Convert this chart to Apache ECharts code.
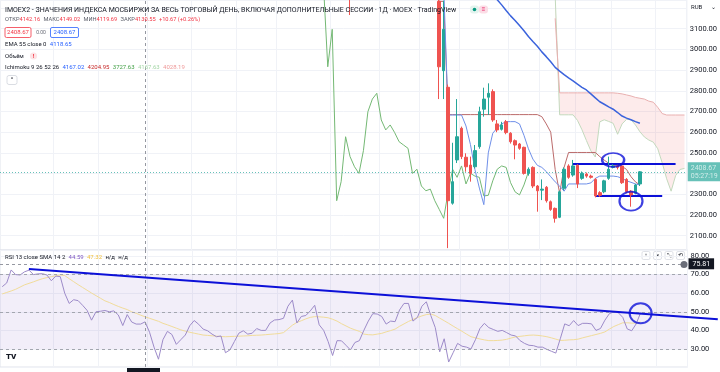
<!DOCTYPE html>
<html><head><meta charset="utf-8">
<script src="https://cdn.jsdelivr.net/npm/echarts@6/dist/echarts.min.js"></script>
<style>html,body{margin:0;padding:0;background:#fff}#c{width:720px;height:372px}</style>
</head><body><div id="c"></div>
<script>
// ---------- data ----------
const N_SLOTS = 154;                       // bars + future slots (cloud projection)
const bars = Array.from({length: N_SLOTS}, (_, i) => 'D' + (i + 1));

// candles (index on the bar axis, open, close, low, high)
const candleIndex = [78, 97, 98, 99, 100, 101, 102, 103, 104, 105, 106, 107, 108, 109, 110, 111, 112, 113, 114, 115, 116, 117, 118, 119, 120, 121, 122, 123, 124, 125, 126, 127, 128, 129, 130, 131, 132, 133, 134, 135, 136, 137, 138, 139, 140, 141, 142, 143];
const candleOpen  = [3310, 3460, 3232, 2897, 2817, 2257, 2466, 2619, 2479, 2441, 2433, 2530, 2711, 2769, 2796, 2640, 2614, 2651, 2595, 2559, 2543, 2527, 2401, 2430, 2340, 2320, 2334, 2264, 2232, 2189, 2329, 2437, 2393, 2440, 2377, 2398, 2388, 2372, 2308, 2312, 2377, 2430, 2437, 2437, 2372, 2315, 2305, 2350];
const candleClose = [3265, 3330, 2916, 3097, 2269, 2361, 2578, 2482, 2433, 2401, 2511, 2699, 2760, 2788, 2659, 2611, 2635, 2598, 2554, 2538, 2522, 2401, 2421, 2340, 2317, 2325, 2269, 2227, 2184, 2312, 2421, 2382, 2437, 2350, 2401, 2388, 2382, 2292, 2295, 2365, 2421, 2437, 2430, 2356, 2312, 2297, 2345, 2408.67];
const candleLow   = [3166, 3300, 2760, 2760, 2040, 2250, 2451, 2470, 2409, 2361, 2425, 2520, 2675, 2683, 2650, 2600, 2608, 2590, 2545, 2469, 2515, 2395, 2390, 2330, 2216, 2272, 2260, 2220, 2163, 2185, 2320, 2375, 2385, 2330, 2370, 2380, 2376, 2285, 2288, 2305, 2370, 2425, 2420, 2350, 2305, 2240, 2300, 2340];
const candleHigh  = [3330, 3480, 3250, 3235, 2830, 2549, 2760, 2627, 2498, 2482, 2538, 2723, 2815, 2836, 2807, 2659, 2650, 2659, 2600, 2565, 2548, 2530, 2430, 2435, 2345, 2372, 2340, 2270, 2236, 2318, 2430, 2445, 2466, 2445, 2410, 2405, 2395, 2378, 2315, 2370, 2482, 2445, 2442, 2440, 2378, 2320, 2350, 2412];
const lastPrice = 2408.67;

// EMA 55
const emaStart = 110;
const ema55 = [3270, 3240, 3215, 3188, 3162, 3140, 3115, 3090, 3062, 3038, 3015, 2988, 2965, 2940, 2913, 2895, 2878, 2862, 2848, 2832, 2817, 2804, 2785, 2766, 2747, 2735, 2722, 2711, 2695, 2678, 2668, 2660, 2651, 2643];

// Ichimoku 9 26 52 26
const tenkanStart = 99;
const tenkan = [3300, 2683, 2683, 2683, 2683, 2630, 2540, 2420, 2330, 2250, 2500, 2595, 2620, 2640, 2651, 2651, 2651, 2640, 2585, 2520, 2470, 2440, 2430, 2410, 2385, 2360, 2340, 2315, 2350, 2350, 2350, 2350, 2350, 2355, 2377, 2388, 2388, 2388, 2388, 2385, 2377, 2365, 2358, 2350, 2345];
const kijunStart = 97;
const kijun = [3300, 3232, 3232, 2685, 2685, 2685, 2685, 2685, 2685, 2685, 2685, 2685, 2685, 2685, 2685, 2685, 2685, 2685, 2685, 2685, 2685, 2685, 2685, 2685, 2675, 2640, 2600, 2420, 2305, 2430, 2502, 2502, 2502, 2502, 2502, 2502, 2502, 2482, 2465, 2450, 2440, 2440, 2435, 2420, 2385, 2360, 2345];
const spanStart = 124;
const spanA = [3260, 2684, 2684, 2684, 2684, 2657, 2612, 2560, 2510, 2480, 2650, 2660, 2652, 2643, 2590, 2640, 2662, 2660, 2635, 2602, 2577, 2562, 2552, 2520, 2452, 2375, 2315, 2390, 2420, 2425];
const spanB = [3150, 2790, 2790, 2790, 2790, 2790, 2790, 2790, 2790, 2790, 2790, 2790, 2790, 2790, 2788, 2785, 2780, 2775, 2768, 2764, 2760, 2750, 2745, 2720, 2690, 2683, 2683, 2683, 2683, 2683];
const laggingShift = 25;

// RSI 13 and its SMA 14 (bars 0..143)
const rsi = [63.5,65.5,72.5,70,69.8,71.5,72.4,70,70.4,70.5, 69.8,66.7,69.2,68.9,60,54.5,56.5,56,53.5,50.8, 45.5,50,50.3,50.7,50,50.5,48.3,42.6,48.5,44.5, 43.4,43.4,44.59,39,31,24.5,35,39.5,37.8,32.5, 35,37.5,42.5,45.3,43.3,40.7,39.8,38,36.6,37, 28,29.5,34,38.5,39.8,38,38.5,41,40,40, 44,45.6,45.8,46.5,53,56.3,44,47.5,48,50.5, 53.5,43,40,34,26.5,34.5,34.4,32,29.5,33.5, 34.5,40,45,49,48.8,47.5,43.4,45,44.7,51, 54.5,54.5,45,47,53,55.4,48,41.5,28.5,35.5, 23,28,33,31.5,31,30,35,41,43.8,41.5, 40.5,39.5,40,38.8,37.5,37,34.5,33,32,31.8, 31,31,29.8,28.8,27.8,35.5,43.5,42.5,45.3,42.6, 43.8,43.8,43.5,40,41,45.5,49,50,49.5,47, 40.8,39.8,43.5,49.5];
const rsiSma = [59.6,60.4,61.2,62.1,63.3,64.5,65.3,66.1,67,67.8, 68.4,68.9,69.4,69.8,69.5,67.8,66.2,64.6,63.1,61.6, 60.1,58.7,57.3,55.9,55,53.9,52.9,52,51.2,50, 49.2,48.2,47.32,46.5,45.7,44.9,43.8,43,42.1,41.2, 40.3,39.6,39,38.5,38,37.5,37.3,37.1,36.9,36.7, 36.6,36.7,36.8,36.9,37,37.1,37.3,37.4,37.5,37.7, 37.9,38.1,38.3,38.8,40.8,42.8,44.3,45.2,46.2,47, 47.4,47.3,47.1,46.8,46,45,43.6,42.4,41.2,40.3, 39.5,38,37.7,37.6,38,38.4,39.2,39.9,40.7,42.2, 43.5,44.8,45.9,46.9,47.8,48.5,48.8,48,46.6,45.2, 43.8,42.3,40.9,39.5,38,36.6,36,35.4,34.9,34.5, 34.5,34.6,34.8,35.2,35.9,36.5,36.8,37.1,37.4,37.5, 37.3,37,36.6,36,35.3,34.6,34.7,34.9,35,35.3, 36,36.6,37.2,37.8,38.4,39.2,40.7,42.1,43.1,44.1, 44.1,43.9,43.9,44.5];
const rsiLevels = [70, 50, 30];
const crosshairBar = 32;
const crosshairRsi = 75.81;

// user drawings (bar index, value)
const resistance = [[128, 2449], [151, 2449]];
const support = [[133, 2293], [148, 2293]];
const priceCircles = [[137, 2466], [141, 2267]];
const rsiTrend = [[6, 73.0], [161, 46.05]];
const rsiCircle = [[143, 49.2]];

// ---------- build ----------
const place = (start, arr) => { const out = new Array(N_SLOTS).fill('-'); arr.forEach((v, i) => { if (start + i < N_SLOTS) out[start + i] = v; }); return out; };
const kline = new Array(N_SLOTS).fill('-');
candleIndex.forEach((k, j) => { kline[k] = [candleOpen[j], candleClose[j], candleLow[j], candleHigh[j]]; });
const lagging = new Array(N_SLOTS).fill('-');
candleIndex.forEach((k, j) => { if (k >= 97) lagging[k - laggingShift] = candleClose[j]; });
const spanAFull = place(spanStart, spanA), spanBFull = place(spanStart, spanB);
const cloudBase = spanAFull.map((a, i) => a === '-' ? '-' : Math.min(a, spanBFull[i]));
const cloudDiff = spanAFull.map((a, i) => a === '-' ? '-' : Math.abs(spanBFull[i] - a));
const overlayBars = Array.from({length: 162}, (_, i) => 'O' + i);
const vGrid = new Set([12, 22, 33, 43, 53, 62, 74, 85, 94, 103, 114, 121, 129, 137, 147]);

const FONT = 'Roboto, "Noto Sans", sans-serif';
const BLUE = '#0c10d8';
const dashGray = {color: '#9598a1', width: 1, type: [3, 3]};

const xCat = (grid) => ({
  type: 'category', gridIndex: grid, data: bars, boundaryGap: true,
  axisLine: {show: false}, axisTick: {show: false}, axisLabel: {show: false},
  splitLine: {show: true, interval: (i) => vGrid.has(i), lineStyle: {color: '#f0f2f7', width: 1}}
});

const option = {
  animation: false,
  backgroundColor: '#ffffff',
  grid: [
    {left: -4, top: 0, width: 691.5, height: 250, show: true, borderColor: '#e0e3eb', borderWidth: 1, backgroundColor: 'transparent'},
    {left: -4, top: 250, width: 691.5, height: 117, show: true, borderColor: '#e0e3eb', borderWidth: 1, backgroundColor: 'transparent'},
    {left: -4, top: 250, width: 162 * 4.49, height: 117, show: false}
  ],
  xAxis: [xCat(0), xCat(1),
    {type: 'category', gridIndex: 2, data: overlayBars, show: false}],
  yAxis: [
    {type: 'value', gridIndex: 0, position: 'right', min: 2030.9, max: 3238.6, splitNumber: 12,
     axisLine: {show: false}, axisTick: {show: false},
     axisLabel: {showMinLabel: false, showMaxLabel: false, margin: 3, fontSize: 7.5, color: '#131722', fontFamily: FONT,
       formatter: v => (Math.round(v) % 100 !== 0 || v >= 3200 || Math.round(v) === 2400) ? '' : v.toFixed(2)},
     splitLine: {lineStyle: {color: '#f0f2f7'}}},
    {type: 'value', gridIndex: 1, position: 'right', min: 20.32, max: 83.23, splitNumber: 6,
     axisLine: {show: false}, axisTick: {show: false},
     axisLabel: {showMinLabel: false, showMaxLabel: false, margin: 3, fontSize: 7.5, color: '#131722', fontFamily: FONT,
       formatter: v => (Math.round(v) % 10 !== 0) ? '' : v.toFixed(2)},
     splitLine: {lineStyle: {color: '#f0f2f7'}}},
    {type: 'value', gridIndex: 2, show: false, min: 20.32, max: 83.23}
  ],
  series: [
    // cloud fill
    {type: 'line', name: 'cloudBase', xAxisIndex: 0, yAxisIndex: 0, data: cloudBase, stack: 'cloud', symbol: 'none', lineStyle: {opacity: 0}, silent: true, z: 1},
    {type: 'line', name: 'cloud', xAxisIndex: 0, yAxisIndex: 0, data: cloudDiff, stack: 'cloud', symbol: 'none', lineStyle: {opacity: 0}, areaStyle: {color: 'rgba(239,83,80,0.16)'}, silent: true, z: 1},
    {type: 'line', name: 'Span A', data: spanAFull, symbol: 'none', lineStyle: {color: '#c3d9bd', width: 1}, z: 2},
    {type: 'line', name: 'Span B', data: spanBFull, symbol: 'none', lineStyle: {color: '#e9b0b0', width: 1}, z: 2},
    {type: 'line', name: 'Lagging', data: lagging, symbol: 'none', lineStyle: {color: '#74b874', width: 1}, z: 3},
    {type: 'line', name: 'Kijun', data: place(kijunStart, kijun), symbol: 'none', lineStyle: {color: '#bb6b6b', width: 1}, z: 3},
    {type: 'line', name: 'Tenkan', data: place(tenkanStart, tenkan), symbol: 'none', lineStyle: {color: '#6f8fe8', width: 1}, z: 3},
    {type: 'line', name: 'EMA 55', data: place(emaStart, ema55), symbol: 'none', lineStyle: {color: '#3b63dc', width: 1.5}, z: 4},
    {type: 'candlestick', name: 'IMOEX2', data: kline, barWidth: 3, clip: true, z: 5,
     itemStyle: {color: '#26a69a', color0: '#ef5350', borderColor: '#26a69a', borderColor0: '#ef5350', borderWidth: 1},
     markLine: {symbol: 'none', silent: true, animation: false, data: [
       {yAxis: lastPrice, lineStyle: {color: '#26a69a', width: 1, type: [1, 2], opacity: 0.7},
        label: {show: true, position: 'end', distance: 1, formatter: '{p|2408.67}\n{t|05:27:19}', backgroundColor: '#26a69a', padding: [2, 3, 1, 3],
          rich: {p: {color: '#fff', fontSize: 7, fontFamily: FONT, lineHeight: 8}, t: {color: '#fff', fontSize: 7, fontFamily: FONT, lineHeight: 8}}}},
       {xAxis: crosshairBar, lineStyle: dashGray, label: {show: false}},
       [{coord: resistance[0], lineStyle: {color: BLUE, width: 2, type: 'solid'}, label: {show: false}}, {coord: resistance[1]}],
       [{coord: support[0], lineStyle: {color: BLUE, width: 2, type: 'solid'}, label: {show: false}}, {coord: support[1]}]
     ]}},
    {type: 'scatter', name: 'marks', data: priceCircles, symbol: 'circle', symbolSize: (v, p) => p.dataIndex === 0 ? [22, 14] : [23, 19],
     itemStyle: {color: 'rgba(0,0,0,0)', borderColor: BLUE, borderWidth: 2}, silent: true, z: 6},
    // RSI pane
    {type: 'line', name: 'RSI', xAxisIndex: 1, yAxisIndex: 1, data: rsi, symbol: 'none', lineStyle: {color: '#9d8bc9', width: 1}, z: 3,
     markArea: {silent: true, itemStyle: {color: 'rgba(126,87,194,0.1)'}, data: [[{yAxis: 70}, {yAxis: 30}]]},
     markLine: {symbol: 'none', silent: true, animation: false, data: [
       ...rsiLevels.map(v => ({yAxis: v, lineStyle: {color: '#a3a6af', width: 1, type: [3, 3]}, label: {show: false}})),
       {xAxis: crosshairBar, lineStyle: dashGray, label: {show: false}},
       {yAxis: crosshairRsi, lineStyle: dashGray, label: {show: true, position: 'end', distance: 1, formatter: '75.81', color: '#fff', fontSize: 7, fontFamily: FONT, backgroundColor: '#131722', padding: [2, 4, 2, 4]}}
     ]}},
    {type: 'line', name: 'RSI SMA', xAxisIndex: 1, yAxisIndex: 1, data: rsiSma, symbol: 'none', lineStyle: {color: '#f1dc9a', width: 1}, z: 2},
    {type: 'scatter', name: 'rsiMark', xAxisIndex: 1, yAxisIndex: 1, data: rsiCircle, symbol: 'circle', symbolSize: [22, 20],
     itemStyle: {color: 'rgba(0,0,0,0)', borderColor: BLUE, borderWidth: 2}, silent: true, z: 6},
    {type: 'line', name: 'RSI trend', xAxisIndex: 2, yAxisIndex: 2, data: rsiTrend, symbol: 'none', clip: false, lineStyle: {color: BLUE, width: 2}, z: 7}
  ],
  graphic: [
    {type: 'text', x: 5, y: 10, z: 20, style: {text: 'IMOEX2 - ЗНАЧЕНИЯ ИНДЕКСА МОСБИРЖИ ЗА ВЕСЬ ТОРГОВЫЙ ДЕНЬ, ВКЛЮЧАЯ ДОПОЛНИТЕЛЬНЫЕ СЕССИИ · 1Д · MOEX · TradingView', font: '7px ' + FONT, fill: '#131722', verticalAlign: 'middle'}},
    {type: 'rect', x: 470, y: 5.5, z: 20, shape: {width: 9, height: 8, r: 3}, style: {fill: '#e3f3ee'}},
    {type: 'circle', x: 474.5, y: 9.5, z: 21, shape: {r: 1.8}, style: {fill: '#089981'}},
    {type: 'rect', x: 479, y: 5.5, z: 20, shape: {width: 9, height: 8, r: 3}, style: {fill: '#fbdde6'}},
    {type: 'text', x: 483.5, y: 9.5, z: 21, style: {text: '≡', font: '6px ' + FONT, fill: '#e91e63', align: 'center', verticalAlign: 'middle'}},
    {type: 'text', x: 5, y: 19.5, z: 20, style: {text: '{l|ОТКР}{v|4142.16} {l|МАКС}{v|4149.02} {l|МИН}{v|4119.69} {l|ЗАКР}{v|4130.55} {v|+10.67 (+0.26%)}', verticalAlign: 'middle',
      rich: {l: {fontSize: 5.7, fontFamily: FONT, fill: '#5d606b'}, v: {fontSize: 5.7, fontFamily: FONT, fill: '#f23645'}}}},
    {type: 'rect', x: 5, y: 27.5, z: 20, shape: {width: 26, height: 10, r: 1.5}, style: {fill: '#fff', stroke: '#f23645', lineWidth: 0.8}},
    {type: 'text', x: 18, y: 32.5, z: 21, style: {text: '2408.67', font: '6px ' + FONT, fill: '#f23645', align: 'center', verticalAlign: 'middle'}},
    {type: 'text', x: 41, y: 32.5, z: 21, style: {text: '0.00', font: '5px ' + FONT, fill: '#6a6d78', align: 'center', verticalAlign: 'middle'}},
    {type: 'rect', x: 50.5, y: 27.5, z: 20, shape: {width: 28, height: 10, r: 1.5}, style: {fill: '#fff', stroke: '#2962ff', lineWidth: 0.8}},
    {type: 'text', x: 64.5, y: 32.5, z: 21, style: {text: '2408.67', font: '6px ' + FONT, fill: '#2962ff', align: 'center', verticalAlign: 'middle'}},
    {type: 'text', x: 5, y: 44.5, z: 20, style: {text: '{l|EMA 55 close 0} {b|4118.65}', verticalAlign: 'middle',
      rich: {l: {fontSize: 6, fontFamily: FONT, fill: '#131722'}, b: {fontSize: 6, fontFamily: FONT, fill: '#2962ff'}}}},
    {type: 'text', x: 5, y: 56, z: 20, style: {text: 'Объём', font: '6px ' + FONT, fill: '#131722', verticalAlign: 'middle'}},
    {type: 'circle', x: 33.5, y: 56, z: 20, shape: {r: 3.6}, style: {fill: '#fde3e5'}},
    {type: 'text', x: 33.5, y: 56, z: 21, style: {text: '!', font: 'bold 6px ' + FONT, fill: '#f23645', align: 'center', verticalAlign: 'middle'}},
    {type: 'text', x: 5, y: 67.5, z: 20, style: {text: '{l|Ichimoku 9 26 52 26} {a|4167.02} {b|4204.95} {c|3727.63} {d|4167.63} {e|4028.19}', verticalAlign: 'middle',
      rich: {l: {fontSize: 6, fontFamily: FONT, fill: '#131722'}, a: {fontSize: 6, fontFamily: FONT, fill: '#2962ff'}, b: {fontSize: 6, fontFamily: FONT, fill: '#c62828'},
             c: {fontSize: 6, fontFamily: FONT, fill: '#43a047'}, d: {fontSize: 6, fontFamily: FONT, fill: '#a5d6a7'}, e: {fontSize: 6, fontFamily: FONT, fill: '#ef9a9a'}}}},
    {type: 'rect', x: 7, y: 75.5, z: 20, shape: {width: 10, height: 9, r: 2}, style: {fill: '#fff', stroke: '#d1d4dc', lineWidth: 0.8}},
    {type: 'text', x: 12, y: 79.5, z: 21, style: {text: '^', font: '6px ' + FONT, fill: '#131722', align: 'center', verticalAlign: 'middle'}},
    {type: 'text', x: 691, y: 7.5, z: 20, style: {text: 'RUB', font: '6px ' + FONT, fill: '#131722', verticalAlign: 'middle'}},
    {type: 'text', x: 713, y: 7, z: 20, style: {text: '⌄', font: '6px ' + FONT, fill: '#131722', align: 'center', verticalAlign: 'middle'}},
    {type: 'text', x: 5, y: 257, z: 20, style: {text: '{l|RSI 13 close SMA 14 2} {a|44.59} {b|47.32} {l|н/д} {l|н/д}', verticalAlign: 'middle',
      rich: {l: {fontSize: 6, fontFamily: FONT, fill: '#131722'}, a: {fontSize: 6, fontFamily: FONT, fill: '#7e57c2'}, b: {fontSize: 6, fontFamily: FONT, fill: '#f0c040'}}}},
    {type: 'text', x: 6, y: 357, z: 20, style: {text: 'TV', font: '900 8px ' + FONT, fill: '#131722', verticalAlign: 'middle'}},
    {type: 'rect', x: 127, y: 368, z: 20, shape: {width: 33, height: 6}, style: {fill: '#131722'}},
    // pane buttons
    ...['↑', '×', '⤡', '⟲'].map((g, i) => ({type: 'group', x: 642 + i * 11.5, y: 251.5, z: 20, children: [
      {type: 'rect', shape: {width: 8, height: 8, r: 1.5}, style: {fill: '#fff', stroke: '#d1d4dc', lineWidth: 0.7}},
      {type: 'text', x: 4, y: 4, style: {text: g, font: '6px ' + FONT, fill: '#131722', align: 'center', verticalAlign: 'middle'}}]})),
    {type: 'circle', x: 684, y: 264.5, z: 20, shape: {r: 3.5}, style: {fill: '#6a6d78'}}
  ]
};
const chart = echarts.init(document.getElementById('c'), null, {renderer: 'canvas'});
chart.setOption(option);
</script>
</body></html>
